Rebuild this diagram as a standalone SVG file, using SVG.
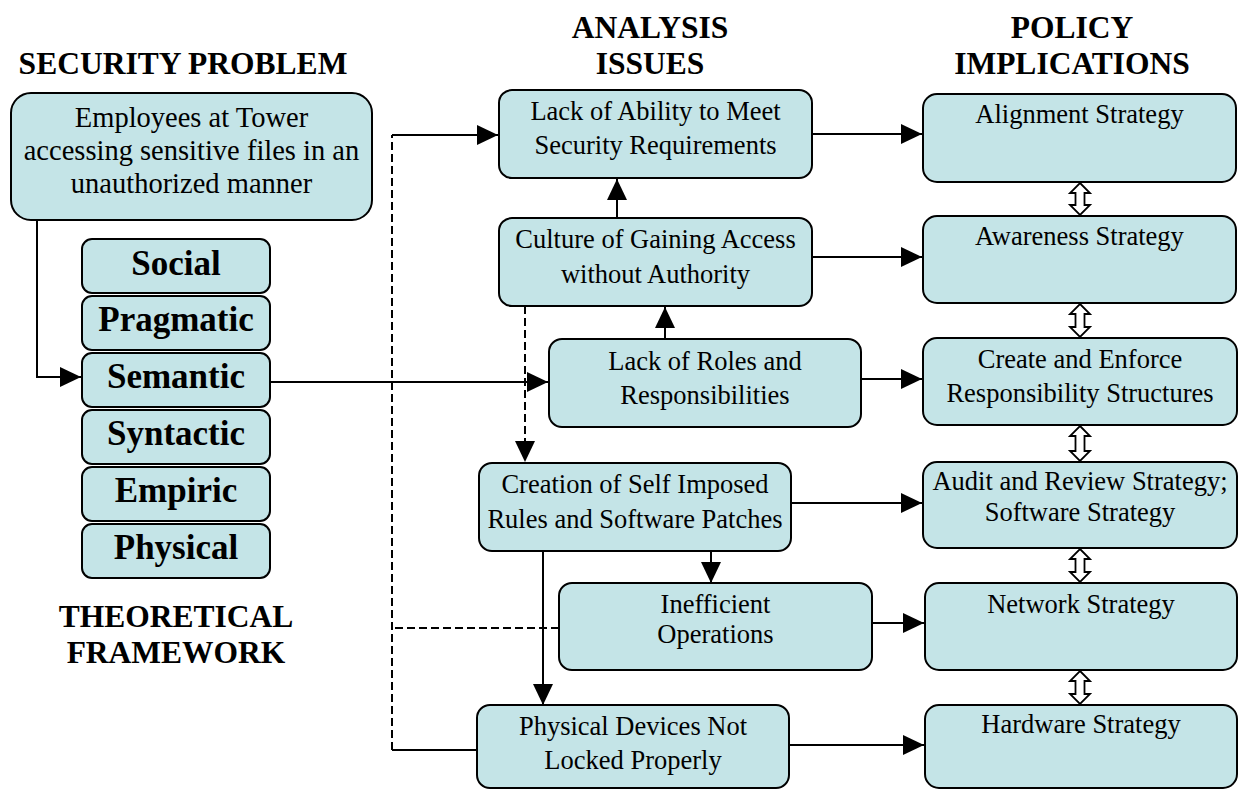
<svg xmlns="http://www.w3.org/2000/svg" width="1238" height="789" viewBox="0 0 1238 789">
<style>
.box{fill:#C4E4E7;stroke:#000;stroke-width:2}
.t{font-family:"Liberation Serif","Times New Roman",serif;font-size:26.5px;fill:#000;text-anchor:middle}
.t1{font-family:"Liberation Serif","Times New Roman",serif;font-size:28.5px;fill:#000;text-anchor:middle}
.hd{font-family:"Liberation Serif","Times New Roman",serif;font-size:31.5px;font-weight:bold;fill:#000;text-anchor:middle}
.ly{font-family:"Liberation Serif","Times New Roman",serif;font-size:35px;font-weight:bold;fill:#000;text-anchor:middle}
.ln{fill:none;stroke:#000;stroke-width:2}
.ar{marker-end:url(#ah)}
.da{stroke-dasharray:8,4}
.dbl{fill:#fff;stroke:#000;stroke-width:1.8;stroke-linejoin:miter}
</style>
<defs>
<marker id="ah" viewBox="0 0 21 20" refX="21" refY="10" markerWidth="21" markerHeight="20" markerUnits="userSpaceOnUse" orient="auto">
<path d="M0,0 L21,10 L0,20 z" fill="#000"/>
</marker>
</defs>

<g id="headers">
<text class="hd" x="183" y="74">SECURITY PROBLEM</text>
<text class="hd" x="650" y="38">ANALYSIS</text>
<text class="hd" x="650" y="74">ISSUES</text>
<text class="hd" x="1072" y="38">POLICY</text>
<text class="hd" x="1072" y="74">IMPLICATIONS</text>
<text class="hd" x="176" y="627">THEORETICAL</text>
<text class="hd" x="176" y="663">FRAMEWORK</text>
</g>

<g id="connectors">
<path class="ln ar" d="M37,220 V377 H81"/>
<path class="ln ar" d="M270,382 H548"/>
<path class="ln ar" d="M812,134 H922"/>
<path class="ln ar" d="M812,257 H922"/>
<path class="ln ar" d="M861,379 H922"/>
<path class="ln ar" d="M791,503 H922"/>
<path class="ln ar" d="M868,623 H924"/>
<path class="ln ar" d="M789,745 H924"/>
<path class="ln ar" d="M617,218 V179"/>
<path class="ln ar" d="M665,339 V307"/>
<path class="ln ar" d="M711,551 V583"/>
<path class="ln ar" d="M543,551 V705"/>
<path class="ln" d="M477,750 H392"/>
<path class="ln ar" d="M392,135 H498"/>
<path class="ln da ar" d="M525,306 V462"/>
<path class="ln da" d="M392,750 V135"/>
<path class="ln da" d="M559,628 H392"/>
<path class="dbl" d="M1080,183 L1090,193 L1084.5,193 L1084.5,205 L1090,205 L1080,215 L1070,205 L1075.5,205 L1075.5,193 L1070,193 Z"/>
<path class="dbl" d="M1080,304 L1090,314 L1084.5,314 L1084.5,327 L1090,327 L1080,337 L1070,327 L1075.5,327 L1075.5,314 L1070,314 Z"/>
<path class="dbl" d="M1080,426 L1090,436 L1084.5,436 L1084.5,451 L1090,451 L1080,461 L1070,451 L1075.5,451 L1075.5,436 L1070,436 Z"/>
<path class="dbl" d="M1080,549 L1090,559 L1084.5,559 L1084.5,572 L1090,572 L1080,582 L1070,572 L1075.5,572 L1075.5,559 L1070,559 Z"/>
<path class="dbl" d="M1080,671 L1090,681 L1084.5,681 L1084.5,694 L1090,694 L1080,704 L1070,694 L1075.5,694 L1075.5,681 L1070,681 Z"/>
</g>

<g id="problem">
<rect class="box" x="11" y="93" width="361" height="127" rx="20"/>
<text class="t1" x="191.5" y="127">Employees at Tower</text>
<text class="t1" x="191.5" y="160">accessing sensitive files in an</text>
<text class="t1" x="191.5" y="193">unauthorized manner</text>
</g>

<g id="social"><rect class="box" x="82" y="239" width="188" height="54" rx="10"/><text class="ly" x="176" y="275">Social</text></g>
<g id="pragmatic"><rect class="box" x="82" y="296" width="188" height="54" rx="10"/><text class="ly" x="176" y="331">Pragmatic</text></g>
<g id="semantic"><rect class="box" x="82" y="353" width="188" height="54" rx="10"/><text class="ly" x="176" y="388">Semantic</text></g>
<g id="syntactic"><rect class="box" x="82" y="410" width="188" height="54" rx="10"/><text class="ly" x="176" y="445">Syntactic</text></g>
<g id="empiric"><rect class="box" x="82" y="467" width="188" height="54" rx="10"/><text class="ly" x="176" y="502">Empiric</text></g>
<g id="physical"><rect class="box" x="82" y="524" width="188" height="54" rx="10"/><text class="ly" x="176" y="559">Physical</text></g>

<g id="a1"><rect class="box" x="499" y="90" width="313" height="88" rx="13"/>
<text class="t" x="655.5" y="120">Lack of Ability to Meet</text><text class="t" x="655.5" y="154">Security Requirements</text></g>
<g id="a2"><rect class="box" x="499" y="218" width="313" height="88" rx="13"/>
<text class="t" x="655.5" y="248">Culture of Gaining Access</text><text class="t" x="655.5" y="283">without Authority</text></g>
<g id="a3"><rect class="box" x="549" y="339" width="312" height="88" rx="13"/>
<text class="t" x="705" y="370">Lack of Roles and</text><text class="t" x="705" y="404">Responsibilities</text></g>
<g id="a4"><rect class="box" x="479" y="463" width="312" height="88" rx="13"/>
<text class="t" x="635" y="493">Creation of Self Imposed</text><text class="t" x="635" y="528">Rules and Software Patches</text></g>
<g id="a5"><rect class="box" x="559" y="583" width="313" height="87" rx="13"/>
<text class="t" x="715.5" y="613">Inefficient</text><text class="t" x="715.5" y="643">Operations</text></g>
<g id="a6"><rect class="box" x="477" y="705" width="312" height="83" rx="13"/>
<text class="t" x="633" y="735">Physical Devices Not</text><text class="t" x="633" y="769">Locked Properly</text></g>

<g id="p1"><rect class="box" x="923" y="94" width="313" height="88" rx="14"/><text class="t" x="1079.5" y="123">Alignment Strategy</text></g>
<g id="p2"><rect class="box" x="923" y="216" width="313" height="87" rx="14"/><text class="t" x="1079.5" y="245">Awareness Strategy</text></g>
<g id="p3"><rect class="box" x="923" y="338" width="314" height="87" rx="14"/>
<text class="t" x="1080" y="368">Create and Enforce</text><text class="t" x="1080" y="402">Responsibility Structures</text></g>
<g id="p4"><rect class="box" x="923" y="462" width="314" height="86" rx="14"/>
<text class="t" x="1080" y="490">Audit and Review Strategy;</text><text class="t" x="1080" y="521">Software Strategy</text></g>
<g id="p5"><rect class="box" x="925" y="583" width="312" height="87" rx="14"/><text class="t" x="1081" y="613">Network Strategy</text></g>
<g id="p6"><rect class="box" x="925" y="705" width="312" height="83" rx="14"/><text class="t" x="1081" y="733">Hardware Strategy</text></g>
</svg>
